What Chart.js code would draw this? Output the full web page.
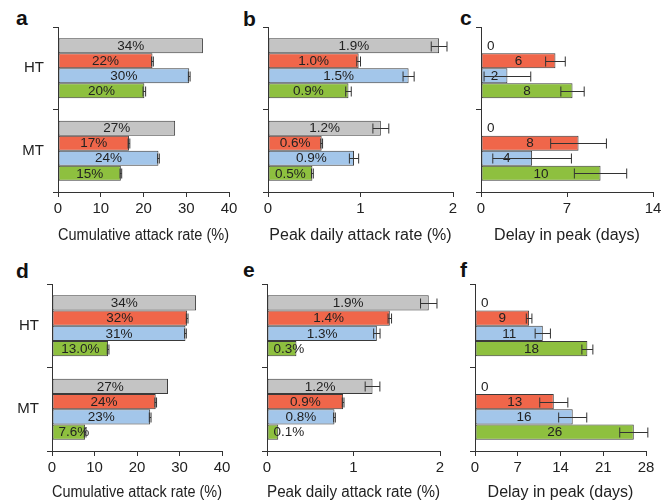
<!DOCTYPE html>
<html>
<head>
<meta charset="utf-8">
<script src="https://cdn.jsdelivr.net/npm/chart.js@4.4.0/dist/chart.umd.min.js"></script>
<style>
  body { margin: 0; background: #fff; }
  #wrap { position: relative; width: 668px; height: 502px; overflow: hidden; font-family: 'Liberation Sans', Arial, sans-serif; }
  canvas { position: absolute; }
  .tag { position: absolute; font-weight: bold; font-size: 21px; line-height: 21px; color: #111; }
</style>
</head>
<body>
<div id="wrap">
  <div class="tag" style="left:16px;top:7px">a</div>
  <div class="tag" style="left:243px;top:8px">b</div>
  <div class="tag" style="left:460px;top:7px">c</div>
  <div class="tag" style="left:16px;top:260px">d</div>
  <div class="tag" style="left:243px;top:259px">e</div>
  <div class="tag" style="left:460px;top:259px">f</div>
</div>
<script>
const categories = ['HT', 'MT']
const seriesColors = ['#c4c4c4', '#f0664a', '#a3c6ea', '#8ec03f']

// each row below is one series (gray, red, blue, green): [HT, MT]
const cumRateTop = [[33.9, 27.4], [22.1, 16.6], [30.7, 23.5], [20.2, 14.7]]
const cumRateTopErr = [[0, 0], [0.2, 0.2], [0.2, 0.2], [0.3, 0.2]]
const cumRateTopText = [['34%', '27%'], ['22%', '17%'], ['30%', '24%'], ['20%', '15%']]

const peakRateTop = [[1.85, 1.22], [0.98, 0.58], [1.52, 0.93], [0.87, 0.48]]
const peakRateTopErr = [[0.085, 0.086], [0.02, 0.01], [0.06, 0.05], [0.03, 0.01]]
const peakRateTopText = [['1.9%', '1.2%'], ['1.0%', '0.6%'], ['1.5%', '0.9%'], ['0.9%', '0.5%']]

const delayTop = [[0, 0], [6.06, 7.94], [2.15, 4.16], [7.45, 9.73]]
const delayTopErr = [[0, 0], [0.8, 2.27], [1.9, 3.2], [0.95, 2.13]]
const delayTopText = [['0', '0'], ['6', '8'], ['2', '4'], ['8', '10']]

const cumRateBottom = [[33.9, 27.3], [31.8, 24.4], [31.4, 23.1], [13.2, 7.8]]
const cumRateBottomErr = [[0, 0], [0.2, 0.2], [0.2, 0.2], [0.2, 0.2]]
const cumRateBottomText = [['34%', '27%'], ['32%', '24%'], ['31%', '23%'], ['13.0%', '7.6%']]

const peakRateBottom = [[1.87, 1.22], [1.42, 0.88], [1.27, 0.78], [0.34, 0.13]]
const peakRateBottomErr = [[0.095, 0.085], [0.02, 0.01], [0.037, 0.01], [0, 0]]
const peakRateBottomText = [['1.9%', '1.2%'], ['1.4%', '0.9%'], ['1.3%', '0.8%'], ['0.3%', '0.1%']]

const delayBottom = [[0, 0], [8.86, 12.9], [11.1, 16.0], [18.4, 26.0]]
const delayBottomErr = [[0, 0], [0.46, 2.3], [1.25, 2.3], [0.9, 2.3]]
const delayBottomText = [['0', '0'], ['9', '13'], ['11', '16'], ['18', '26']]

const ink = '#222'
const lineInk = '#333'

// bar value labels + error bars
const barExtras = {
    id: 'barExtras',
    afterDatasetsDraw(chart) {
        const ctx = chart.ctx
        const xs = chart.scales.x
        ctx.save()
        ctx.font = '13.5px "Liberation Sans", Arial, sans-serif'
        ctx.fillStyle = '#222'
        ctx.textBaseline = 'middle'
        ctx.textAlign = 'center'
        chart.data.datasets.forEach((ds, i) => {
            const meta = chart.getDatasetMeta(i)
            meta.data.forEach((bar, j) => {
                const p = bar.getProps(['x', 'y', 'base'], true)
                const txt = ds.texts[j]
                const w = ctx.measureText(txt).width
                const cx = Math.max((p.base + p.x) / 2, p.base + 6 + w / 2)
                ctx.fillText(txt, cx, p.y + 0.5)
            })
        })
        ctx.strokeStyle = lineInk
        ctx.lineWidth = 1
        chart.data.datasets.forEach((ds, i) => {
            const meta = chart.getDatasetMeta(i)
            meta.data.forEach((bar, j) => {
                const e = ds.errors[j]
                if (!e) return
                const v = ds.data[j]
                const x1 = xs.getPixelForValue(v - e)
                const x2 = xs.getPixelForValue(v + e)
                const y = Math.round(bar.y) + 0.5
                ctx.beginPath()
                ctx.moveTo(x1, y); ctx.lineTo(x2, y)
                ctx.moveTo(x1, y - 5); ctx.lineTo(x1, y + 5)
                ctx.moveTo(x2, y - 5); ctx.lineTo(x2, y + 5)
                ctx.stroke()
            })
        })
        ctx.restore()
    }
}

const wrap = document.getElementById('wrap')

function makePanel(p) {
    const canvas = document.createElement('canvas')
    canvas.width = p.w
    canvas.height = p.h
    canvas.style.left = p.x + 'px'
    canvas.style.top = p.y + 'px'
    wrap.appendChild(canvas)

    const datasets = p.values.map((vals, i) => ({
        data: vals,
        errors: p.errors[i],
        texts: p.texts[i],
        backgroundColor: seriesColors[i],
        borderColor: '#3a3a3a',
        borderWidth: 1,
        borderSkipped: false,
        categoryPercentage: 0.73,
        barPercentage: 1,
    }))

    new Chart(canvas, {
        type: 'bar',
        data: { labels: categories, datasets: datasets },
        options: {
            indexAxis: 'y',
            responsive: false,
            animation: false,
            events: [],
            layout: {
                padding: { left: 0, top: p.area.t - p.y, right: p.x + p.w - p.area.r, bottom: 0 },
            },
            plugins: { legend: { display: false }, tooltip: { enabled: false } },
            scales: {
                x: {
                    min: 0,
                    max: p.max,
                    ticks: {
                        stepSize: p.step,
                        color: ink,
                        padding: 3,
                        font: { family: '"Liberation Sans", Arial, sans-serif', size: 15 },
                    },
                    grid: { drawOnChartArea: false, tickLength: 5, color: lineInk },
                    border: { color: lineInk, width: 1 },
                    title: {
                        display: true,
                        text: p.title,
                        color: ink,
                        padding: { top: 0, bottom: p.titlePad },
                        font: { family: '"Liberation Sans", Arial, sans-serif', size: 16 },
                    },
                    afterFit(s) { s.height = p.y + p.h - p.area.b },
                },
                y: {
                    ticks: {
                        color: ink,
                        padding: p.catPad,
                        font: { family: '"Liberation Sans", Arial, sans-serif', size: 15 },
                        callback: (v, i) => (p.showCats ? categories[i] : ''),
                    },
                    grid: { drawOnChartArea: false, tickLength: 5, color: lineInk, offset: true },
                    border: { color: lineInk, width: 1 },
                    afterFit(s) { s.width = p.area.l - p.x },
                },
            },
        },
        plugins: [barExtras],
    })
}

makePanel({ x: 0, y: 0, w: 245, h: 250, area: { l: 58, r: 229, t: 27, b: 192 }, max: 40, step: 10,
    values: cumRateTop, errors: cumRateTopErr, texts: cumRateTopText,
    title: 'Cumulative attack rate (%)', titlePad: 5, showCats: true, catPad: 9 })
makePanel({ x: 240, y: 0, w: 228, h: 250, area: { l: 268, r: 453, t: 27, b: 192 }, max: 2, step: 1,
    values: peakRateTop, errors: peakRateTopErr, texts: peakRateTopText,
    title: 'Peak daily attack rate (%)', titlePad: 5, showCats: false, catPad: 9 })
makePanel({ x: 462, y: 0, w: 206, h: 250, area: { l: 481, r: 653, t: 27, b: 192 }, max: 14, step: 7,
    values: delayTop, errors: delayTopErr, texts: delayTopText,
    title: 'Delay in peak (days)', titlePad: 5, showCats: false, catPad: 9 })

makePanel({ x: 0, y: 250, w: 240, h: 252, area: { l: 52, r: 222, t: 284, b: 451 }, max: 40, step: 10,
    values: cumRateBottom, errors: cumRateBottomErr, texts: cumRateBottomText,
    title: 'Cumulative attack rate (%)', titlePad: 0, showCats: true, catPad: 8 })
makePanel({ x: 240, y: 250, w: 218, h: 252, area: { l: 267, r: 440, t: 284, b: 451 }, max: 2, step: 1,
    values: peakRateBottom, errors: peakRateBottomErr, texts: peakRateBottomText,
    title: 'Peak daily attack rate (%)', titlePad: 0, showCats: false, catPad: 9 })
makePanel({ x: 458, y: 250, w: 210, h: 252, area: { l: 475, r: 646, t: 284, b: 451 }, max: 28, step: 7,
    values: delayBottom, errors: delayBottomErr, texts: delayBottomText,
    title: 'Delay in peak (days)', titlePad: 0, showCats: false, catPad: 9 })
</script>
</body>
</html>
